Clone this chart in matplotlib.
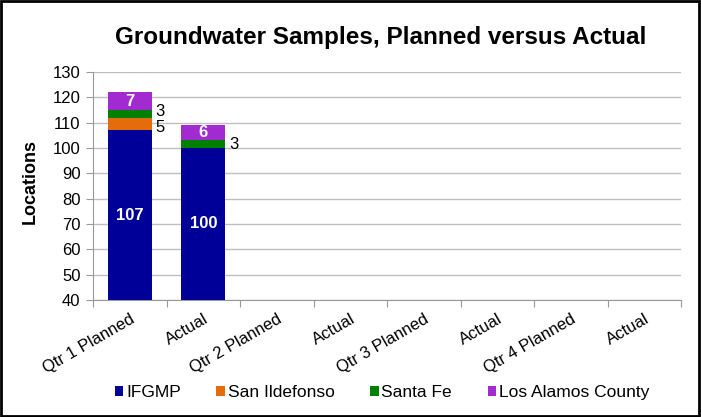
import matplotlib.pyplot as plt
import numpy as np
from matplotlib.patches import Rectangle

plt.rcParams['font.family'] = ['Liberation Sans', 'DejaVu Sans']

categories = ["Qtr 1 Planned", "Actual", "Qtr 2 Planned", "Actual",
              "Qtr 3 Planned", "Actual", "Qtr 4 Planned", "Actual"]
series_names = ["IFGMP", "San Ildefonso", "Santa Fe", "Los Alamos County"]
ifgmp = [107, 100, 0, 0, 0, 0, 0, 0]
san_ildefonso = [5, 0, 0, 0, 0, 0, 0, 0]
santa_fe = [3, 3, 0, 0, 0, 0, 0, 0]
los_alamos = [7, 6, 0, 0, 0, 0, 0, 0]
colors = ["#000099", "#E46C0A", "#008000", "#A12BD0"]

# white labels sit inside the segment, black ones to the right of the bar
label_inside = [True, False, False, True]
# small nudges so the two outside labels on the first bar don't collide
outside_nudge = {(1, 0): -1.5, (2, 0): 1.0}

ymin, ymax = 40, 130

fig = plt.figure(figsize=(7.01, 4.17), dpi=100)
ax = fig.add_axes([0.1327, 0.2806, 0.8388, 0.5467])

x = np.arange(len(categories))
bottom = np.full(len(categories), 0.0)
for si, (name, vals, col, inside) in enumerate(zip(
        series_names, [ifgmp, san_ildefonso, santa_fe, los_alamos],
        colors, label_inside)):
    vals = np.array(vals, dtype=float)
    ax.bar(x, vals, bottom=bottom, width=0.6, color=col, label=name,
           zorder=3)
    for xi, v, b in zip(x, vals, bottom):
        if v <= 0:
            continue
        # centre of the visible part of the segment
        lo, hi = max(b, ymin), min(b + v, ymax)
        yc = (lo + hi) / 2
        if inside:
            ax.text(xi, yc, str(int(v)), ha='center', va='center',
                    color='white', fontweight='bold', fontsize=12, zorder=4)
        else:
            yc += outside_nudge.get((si, xi), 0)
            ax.text(xi + 0.35, yc, str(int(v)), ha='left', va='center',
                    color='black', fontsize=12, zorder=4)
    bottom = bottom + vals

ax.set_ylim(ymin, ymax)
ax.set_xlim(-0.5, len(categories) - 0.5)
ax.set_yticks(np.arange(ymin, ymax + 1, 10))
ax.yaxis.grid(True, color='#bfbfbf', linewidth=1, zorder=0)
ax.set_axisbelow(True)

ax.set_xticks(np.arange(-0.5, len(categories), 1), minor=False)
ax.set_xticklabels([])
ax.set_xticks(x, minor=True)
ax.set_xticklabels(categories, minor=True, rotation=30, ha='right',
                   va='top', rotation_mode='anchor', fontsize=12)
ax.tick_params(axis='x', which='minor', length=0, pad=8)
ax.tick_params(axis='x', which='major', length=5, color='#999999')
ax.tick_params(axis='y', length=5, color='#999999', labelsize=12, pad=4)

for s in ['top', 'right']:
    ax.spines[s].set_visible(False)
for s in ['left', 'bottom']:
    ax.spines[s].set_color('#999999')

ax.set_ylabel("Locations", fontsize=13, fontweight='bold')
ax.yaxis.set_label_coords(-0.093, 0.52)
fig.text(0.543, 0.909, "Groundwater Samples, Planned versus Actual",
         ha='center', va='center', fontsize=17.5, fontweight='bold')

fig.legend(loc='center', bbox_to_anchor=(0.545, 0.0576), ncol=4,
           frameon=False, fontsize=12.5, handlelength=0.5,
           handleheight=0.5, handletextpad=0.15, columnspacing=2.05)

fig.patches.append(Rectangle((0.002, 0.003), 0.995, 0.994,
                             transform=fig.transFigure, fill=False,
                             edgecolor='black', linewidth=2))

fig.savefig("out.png", dpi=100)
